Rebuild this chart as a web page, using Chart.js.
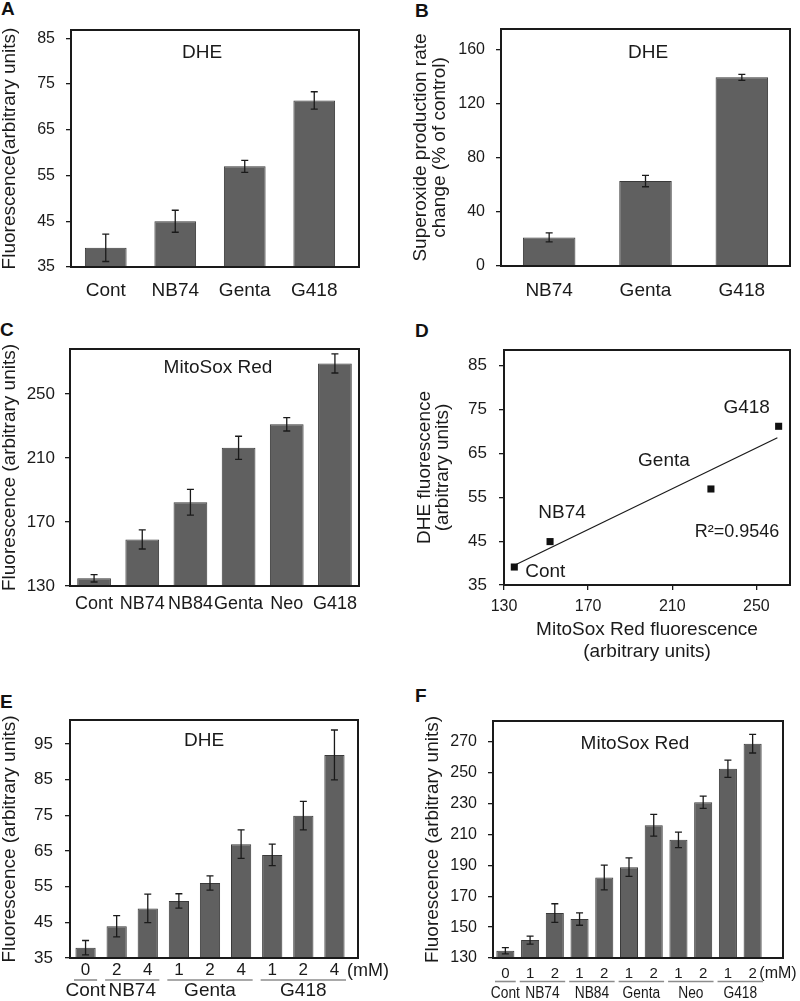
<!DOCTYPE html>
<html>
<head>
<meta charset="utf-8">
<script src="https://cdn.jsdelivr.net/npm/chart.js@4.4.1/dist/chart.umd.min.js"></script>
<style>
  body { margin: 0; background: #fff; width: 800px; height: 1001px; position: relative; overflow: hidden;
         font-family: 'Liberation Sans', Arial, sans-serif; }
  canvas { position: absolute; }
  .tag { position: absolute; font-weight: bold; font-size: 19px; line-height: 1; color: #111; }
</style>
</head>
<body>
<div class="tag" style="left:1px;top:-1px">A</div>
<div class="tag" style="left:415px;top:1px">B</div>
<div class="tag" style="left:0px;top:320px">C</div>
<div class="tag" style="left:415px;top:321px">D</div>
<div class="tag" style="left:0px;top:692px">E</div>
<div class="tag" style="left:415px;top:686px">F</div>

<canvas id="chartA" width="400" height="320" style="left:0;top:0"></canvas>
<canvas id="chartB" width="400" height="320" style="left:400px;top:0"></canvas>
<canvas id="chartC" width="400" height="320" style="left:0;top:320px"></canvas>
<canvas id="chartD" width="400" height="345" style="left:400px;top:320px"></canvas>
<canvas id="chartE" width="400" height="341" style="left:0;top:660px"></canvas>
<canvas id="chartF" width="400" height="341" style="left:400px;top:660px"></canvas>

<script>
// ---- data ----
const aLabels = ['Cont', 'NB74', 'Genta', 'G418'];
const aValues = [39.2, 45.0, 57.0, 71.4];
const aErrors = [3.0, 2.4, 1.3, 1.9];
const aTicks = [35, 45, 55, 65, 75, 85];

const bLabels = ['NB74', 'Genta', 'G418'];
const bValues = [21.1, 62.7, 139.3];
const bErrors = [3.3, 4.2, 2.2];
const bTicks = [0, 40, 80, 120, 160];

const cLabels = ['Cont', 'NB74', 'NB84', 'Genta', 'Neo', 'G418'];
const cValues = [134.8, 159.1, 182.3, 216.3, 231.0, 269.0];
const cErrors = [2.3, 6.0, 8.1, 7.2, 4.2, 6.0];
const cTicks = [130, 170, 210, 250];

const dNames = ['Cont', 'NB74', 'Genta', 'G418'];
const dMitoSox = [134.9, 151.9, 228.4, 260.6];
const dDHE = [39.1, 44.9, 56.9, 71.2];
const dFitX = [135, 260];
const dFitY = [39.5, 68.6];
const dTicksX = [130, 170, 210, 250];
const dTicksY = [35, 45, 55, 65, 75, 85];

const eDoses = ['0', '2', '4', '1', '2', '4', '1', '2', '4'];
const eValues = [37.9, 43.9, 48.9, 51.0, 56.0, 66.9, 63.9, 74.9, 91.9];
const eErrors = [2, 3, 4, 2, 2, 4, 3, 4, 7];
const eGroupNames = ['Cont', 'NB74', 'Genta', 'G418'];
const eGroupStart = [0, 1, 3, 6];
const eGroupEnd = [0, 2, 5, 8];
const eTicks = [35, 45, 55, 65, 75, 85, 95];

const fDoses = ['0', '1', '2', '1', '2', '1', '2', '1', '2', '1', '2'];
const fValues = [134.7, 141.6, 159.1, 155.2, 182.1, 188.8, 215.9, 206.5, 230.8, 252.5, 268.7];
const fErrors = [2, 2.6, 6, 4, 8, 6, 7, 5, 4, 5.6, 6];
const fGroupNames = ['Cont', 'NB74', 'NB84', 'Genta', 'Neo', 'G418'];
const fGroupStart = [0, 1, 3, 5, 7, 9];
const fGroupEnd = [0, 2, 4, 6, 8, 10];
const fTicks = [130, 150, 170, 190, 210, 230, 250, 270];

// ---- style ----
const FAMILY = "'Liberation Sans', Arial, Helvetica, sans-serif";
const INK = '#1a1a1a';
const BAR_FILL = '#606060';
const BAR_EDGE = '#3a3a3a';

Chart.defaults.font.family = FAMILY;
Chart.defaults.color = INK;

const font = (size, lh) => ({ family: FAMILY, size: size, lineHeight: lh || 1 });

// box round the plot area
const framePlugin = {
    id: 'frame',
    afterDraw(chart, args, opts) {
        const { ctx, chartArea: a } = chart;
        ctx.save();
        ctx.strokeStyle = INK;
        ctx.lineWidth = 2;
        ctx.strokeRect(a.left, a.top, a.right - a.left + (opts.extra || 0), a.bottom - a.top);
        ctx.restore();
    }
};

const errorPlugin = {
    id: 'errorBars',
    afterDatasetsDraw(chart, args, opts) {
        if (!opts.errors) return;
        const { ctx } = chart;
        const y = chart.scales.y;
        const values = chart.data.datasets[0].data;
        const bars = chart.getDatasetMeta(0).data;
        ctx.save();
        ctx.strokeStyle = INK;
        ctx.lineWidth = 1.3;
        bars.forEach((bar, i) => {
            const hi = y.getPixelForValue(values[i] + opts.errors[i]);
            const lo = y.getPixelForValue(values[i] - opts.errors[i]);
            ctx.beginPath();
            ctx.moveTo(bar.x, hi); ctx.lineTo(bar.x, lo);
            ctx.moveTo(bar.x - 3.5, hi); ctx.lineTo(bar.x + 3.5, hi);
            ctx.moveTo(bar.x - 3.5, lo); ctx.lineTo(bar.x + 3.5, lo);
            ctx.stroke();
        });
        ctx.restore();
    }
};

// free text at canvas pixels
const textPlugin = {
    id: 'texts',
    afterDraw(chart, args, opts) {
        if (!opts.items) return;
        const { ctx } = chart;
        ctx.save();
        ctx.fillStyle = INK;
        ctx.textAlign = 'center';
        ctx.textBaseline = 'middle';
        opts.items.forEach(t => {
            ctx.font = t.size + 'px ' + FAMILY;
            ctx.fillText(t.text, t.x, t.y);
        });
        ctx.restore();
    }
};

// group names with grey underline below the dose row
const groupPlugin = {
    id: 'groups',
    afterDraw(chart, args, o) {
        if (!o.names) return;
        const { ctx } = chart;
        const x = chart.scales.x;
        const half = (x.getPixelForValue(1) - x.getPixelForValue(0)) / 2;
        const squeeze = o.squeeze || 1;
        ctx.save();
        ctx.font = o.size + 'px ' + FAMILY;
        ctx.textAlign = 'center';
        ctx.textBaseline = 'middle';
        o.names.forEach((name, g) => {
            const x1 = x.getPixelForValue(o.start[g]) - half + o.inset;
            const x2 = x.getPixelForValue(o.end[g]) + half - o.inset;
            ctx.strokeStyle = '#8c8c8c';
            ctx.lineWidth = 1.6;
            ctx.beginPath();
            ctx.moveTo(x1, o.lineY); ctx.lineTo(x2, o.lineY);
            ctx.stroke();
            ctx.fillStyle = INK;
            ctx.save();
            ctx.translate((x1 + x2) / 2, o.textY);
            ctx.scale(squeeze, 1);
            ctx.fillText(name, 0, 0);
            ctx.restore();
        });
        ctx.restore();
    }
};

function yAxis(p) {
    return {
        min: p.ticks[0],
        max: p.yMax,
        afterBuildTicks: s => { s.ticks = p.ticks.map(v => ({ value: v })) },
        afterFit: s => { s.width = p.left },
        grid: { drawOnChartArea: false, drawTicks: true, tickLength: 5, color: INK, lineWidth: 1.3 },
        border: { display: false },
        ticks: { color: INK, font: font(p.tickSize), padding: p.tickPad },
        title: {
            display: true, text: p.yTitle, color: INK,
            font: font(19, p.titleLh), padding: { top: p.titlePad, bottom: 0 }
        }
    };
}

function barChart(id, p) {
    return new Chart(document.getElementById(id), {
        type: 'bar',
        data: {
            labels: p.labels,
            datasets: [{
                data: p.values,
                base: p.ticks[0],
                backgroundColor: BAR_FILL,
                borderColor: BAR_EDGE,
                borderWidth: 1,
                categoryPercentage: 1,
                barPercentage: p.barPct
            }]
        },
        options: {
            responsive: false,
            animation: false,
            layout: { padding: { left: 0, top: p.top, right: p.right, bottom: 0 } },
            plugins: {
                legend: { display: false },
                tooltip: { enabled: false },
                errorBars: { errors: p.errors },
                frame: { extra: p.extra || 0 },
                texts: { items: p.texts },
                groups: p.groups || {}
            },
            scales: {
                x: {
                    grid: { display: false, drawTicks: false },
                    border: { display: false },
                    ticks: { color: INK, font: font(p.xSize), padding: p.xPad, maxRotation: 0, autoSkip: false },
                    afterFit: s => { s.height = p.xh }
                },
                y: yAxis(p)
            }
        },
        plugins: [errorPlugin, framePlugin, textPlugin, groupPlugin]
    });
}

// ---- A ----
barChart('chartA', {
    labels: aLabels, values: aValues, errors: aErrors, ticks: aTicks, yMax: 86.8,
    left: 71, right: 51, top: 30, xh: 53, extra: 10, barPct: 0.6,
    tickSize: 16, tickPad: 11, xSize: 19, xPad: 14,
    yTitle: 'Fluorescence(arbitrary units)', titlePad: 0,
    texts: [{ text: 'DHE', x: 202, y: 53, size: 19 }]
});

// ---- B ----
barChart('chartB', {
    labels: bLabels, values: bValues, errors: bErrors, ticks: bTicks, yMax: 175,
    left: 101, right: 10, top: 29, xh: 54, barPct: 0.545,
    tickSize: 16, tickPad: 11, xSize: 19, xPad: 15,
    yTitle: ['Superoxide production rate', 'change (% of control)'], titlePad: 11,
    texts: [{ text: 'DHE', x: 248, y: 53, size: 19 }]
});

// ---- C ----
barChart('chartC', {
    labels: cLabels, values: cValues, errors: cErrors, ticks: cTicks, yMax: 278,
    left: 70, right: 41, top: 29, xh: 54, barPct: 0.7,
    tickSize: 17, tickPad: 10, xSize: 18, xPad: 9,
    yTitle: 'Fluorescence (arbitrary units)', titlePad: 0,
    texts: [{ text: 'MitoSox Red', x: 218, y: 48, size: 19 }]
});

// ---- D ----
const dNameOffsets = [[31, 5], [12, -29], [-47, -28], [-32, -19]];
new Chart(document.getElementById('chartD'), {
    type: 'scatter',
    data: {
        datasets: [
            {
                data: dMitoSox.map((x, i) => ({ x: x, y: dDHE[i] })),
                pointStyle: 'rect', pointRadius: 5,
                backgroundColor: '#111', borderColor: '#111', borderWidth: 0
            },
            {
                type: 'line',
                data: dFitX.map((x, i) => ({ x: x, y: dFitY[i] })),
                borderColor: INK, borderWidth: 1.2, pointRadius: 0, fill: false
            }
        ]
    },
    options: {
        responsive: false,
        animation: false,
        layout: { padding: { left: 0, top: 30, right: 10, bottom: 0 } },
        plugins: {
            legend: { display: false },
            tooltip: { enabled: false },
            texts: { items: [{ text: 'R\u00b2=0.9546', x: 337, y: 212, size: 18 }] }
        },
        scales: {
            x: {
                type: 'linear',
                min: 130, max: 266,
                afterBuildTicks: s => { s.ticks = dTicksX.map(v => ({ value: v })) },
                afterFit: s => { s.height = 80 },
                grid: { drawOnChartArea: false, drawTicks: true, tickLength: 5, color: INK, lineWidth: 1.3 },
                border: { display: false },
                ticks: { color: INK, font: font(16), padding: 9 },
                title: {
                    display: true, color: INK,
                    text: ['MitoSox Red fluorescence', '(arbitrary units)'],
                    font: font(19, 22 / 19), padding: { top: 0, bottom: 2 }
                }
            },
            y: yAxis({
                ticks: dTicksY, yMax: 88.6, left: 104, tickSize: 17, tickPad: 12,
                yTitle: ['DHE fluorescence', '(arbitrary units)'], titleLh: 18 / 19, titlePad: 15.5
            })
        }
    },
    plugins: [framePlugin, textPlugin, {
        id: 'pointNames',
        afterDraw(chart) {
            const { ctx } = chart;
            const pts = chart.getDatasetMeta(0).data;
            ctx.save();
            ctx.fillStyle = INK;
            ctx.font = '19px ' + FAMILY;
            ctx.textAlign = 'center';
            ctx.textBaseline = 'middle';
            dNames.forEach((name, i) => {
                ctx.fillText(name, pts[i].x + dNameOffsets[i][0], pts[i].y + dNameOffsets[i][1]);
            });
            ctx.restore();
        }
    }]
});

// ---- E ----
barChart('chartE', {
    labels: eDoses, values: eValues, errors: eErrors, ticks: eTicks, yMax: 101.7,
    left: 70, right: 50, top: 60, xh: 43, extra: 8, barPct: 0.65,
    tickSize: 17, tickPad: 12, xSize: 17, xPad: 4,
    yTitle: 'Fluorescence (arbitrary units)', titlePad: 0,
    texts: [
        { text: 'DHE', x: 204, y: 80.5, size: 19 },
        { text: '(mM)', x: 368, y: 311, size: 18 }
    ],
    groups: { names: eGroupNames, start: eGroupStart, end: eGroupEnd, inset: 4, lineY: 320, textY: 331, size: 19 }
});

// ---- F ----
barChart('chartF', {
    labels: fDoses, values: fValues, errors: fErrors, ticks: fTicks, yMax: 283.4,
    left: 93, right: 35, top: 61, xh: 43, extra: 18, barPct: 0.73,
    tickSize: 16, tickPad: 11, xSize: 15, xPad: 8,
    yTitle: 'Fluorescence (arbitrary units)', titlePad: 23,
    texts: [
        { text: 'MitoSox Red', x: 235, y: 83.7, size: 19 },
        { text: '(mM)', x: 378, y: 313.5, size: 16 }
    ],
    groups: { names: fGroupNames, start: fGroupStart, end: fGroupEnd, inset: 2, lineY: 321.5, textY: 333.5, size: 16, squeeze: 0.86 }
});
</script>
</body>
</html>
